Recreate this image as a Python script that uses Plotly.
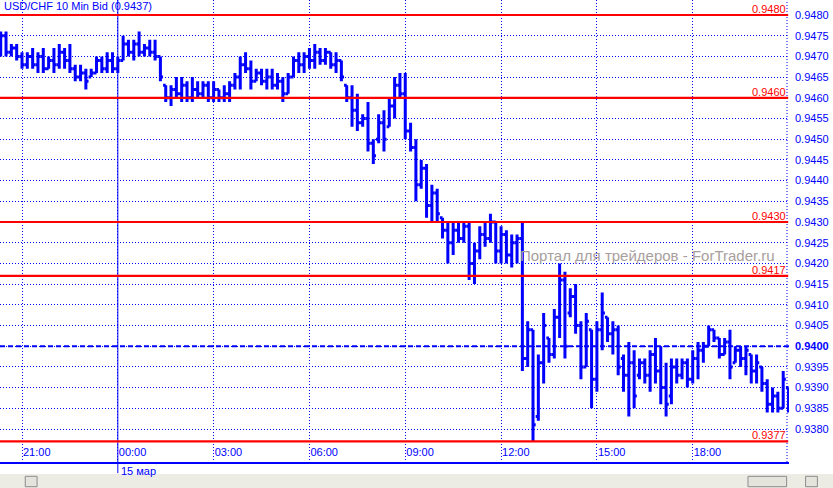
import pandas as pd
import plotly.graph_objects as go

# ---- data (10-minute bars, USD/CHF bid) ----
times = pd.date_range("2012-03-14 20:20", periods=149, freq="10min")

open_ = [0.9471,0.9475,0.9471,0.9472,0.9470,0.9468,0.9470,0.9468,0.9470,0.9467,
         0.9469,0.9468,0.9471,0.9469,0.9467,0.9465,0.9466,0.9465,0.9466,0.9469,
         0.9467,0.9469,0.9467,0.9469,0.9473,0.9471,0.9473,0.9471,0.9472,0.9471,
         0.9470,0.9463,0.9460,0.9462,0.9461,0.9463,0.9460,0.9462,0.9461,0.9463,
         0.9460,0.9462,0.9460,0.9461,0.9463,0.9465,0.9468,0.9467,0.9464,0.9466,
         0.9464,0.9465,0.9463,0.9464,0.9461,0.9465,0.9469,0.9468,0.9470,0.9469,
         0.9471,0.9469,0.9471,0.9468,0.9469,0.9463,0.9460,0.9457,0.9454,0.9455,
         0.9449,0.9450,0.9454,0.9453,0.9458,0.9463,0.9461,0.9452,0.9448,0.9439,
         0.9443,0.9434,0.9437,0.9431,0.9428,0.9425,0.9428,0.9426,0.9429,0.9420,
         0.9423,0.9427,0.9426,0.9430,0.9423,0.9427,0.9422,0.9425,0.9426,0.9397,
         0.9404,0.9383,0.9396,0.9402,0.9398,0.9407,0.9416,0.9408,0.9412,0.9405,
         0.9395,0.9404,0.9392,0.9404,0.9407,0.9403,0.9404,0.9397,0.9393,0.9396,
         0.9393,0.9396,0.9393,0.9398,0.9394,0.9390,0.9388,0.9395,0.9393,0.9396,
         0.9392,0.9397,0.9399,0.9400,0.9404,0.9402,0.9398,0.9401,0.9396,0.9399,
         0.9397,0.9398,0.9394,0.9395,0.9391,0.9386,0.9388,0.9385,0.9390]

high = [0.9476,0.9476,0.9473,0.9473,0.9471,0.9471,0.9472,0.9471,0.9472,0.9470,
        0.9472,0.9473,0.9472,0.9473,0.9468,0.9468,0.9467,0.9467,0.9470,0.9470,
        0.9471,0.9471,0.9470,0.9475,0.9474,0.9474,0.9476,0.9473,0.9474,0.9474,
        0.9470,0.9463,0.9463,0.9465,0.9465,0.9464,0.9465,0.9464,0.9464,0.9464,
        0.9464,0.9462,0.9463,0.9464,0.9466,0.9470,0.9471,0.9469,0.9467,0.9467,
        0.9467,0.9467,0.9466,0.9465,0.9466,0.9470,0.9471,0.9471,0.9472,0.9473,
        0.9472,0.9472,0.9471,0.9471,0.9469,0.9463,0.9463,0.9461,0.9456,0.9459,
        0.9450,0.9456,0.9457,0.9460,0.9465,0.9466,0.9466,0.9454,0.9450,0.9445,
        0.9444,0.9439,0.9438,0.9431,0.9430,0.9430,0.9430,0.9430,0.9430,0.9425,
        0.9429,0.9430,0.9432,0.9430,0.9429,0.9428,0.9427,0.9427,0.9430,0.9406,
        0.9404,0.9398,0.9408,0.9402,0.9409,0.9420,0.9418,0.9414,0.9415,0.9406,
        0.9408,0.9404,0.9406,0.9413,0.9407,0.9406,0.9405,0.9398,0.9401,0.9399,
        0.9397,0.9397,0.9399,0.9402,0.9400,0.9396,0.9397,0.9397,0.9397,0.9397,
        0.9399,0.9401,0.9401,0.9405,0.9404,0.9402,0.9402,0.9404,0.9400,0.9400,
        0.9400,0.9398,0.9398,0.9395,0.9392,0.9390,0.9389,0.9394,0.9390]

low = [0.9470,0.9470,0.9470,0.9469,0.9467,0.9467,0.9467,0.9466,0.9466,0.9467,
       0.9466,0.9467,0.9467,0.9466,0.9464,0.9464,0.9462,0.9465,0.9466,0.9466,
       0.9466,0.9466,0.9466,0.9469,0.9470,0.9469,0.9470,0.9470,0.9470,0.9469,
       0.9464,0.9459,0.9458,0.9460,0.9459,0.9459,0.9459,0.9460,0.9460,0.9459,
       0.9459,0.9459,0.9459,0.9459,0.9462,0.9462,0.9466,0.9462,0.9464,0.9463,
       0.9462,0.9462,0.9462,0.9459,0.9461,0.9465,0.9466,0.9466,0.9467,0.9467,
       0.9468,0.9468,0.9467,0.9466,0.9464,0.9459,0.9453,0.9452,0.9453,0.9447,
       0.9444,0.9449,0.9447,0.9453,0.9455,0.9460,0.9450,0.9447,0.9435,0.9438,
       0.9431,0.9430,0.9430,0.9426,0.9420,0.9422,0.9425,0.9425,0.9416,0.9415,
       0.9421,0.9424,0.9425,0.9420,0.9420,0.9420,0.9419,0.9420,0.9394,0.9395,
       0.9377,0.9382,0.9391,0.9396,0.9397,0.9402,0.9397,0.9407,0.9403,0.9392,
       0.9395,0.9385,0.9389,0.9399,0.9401,0.9398,0.9393,0.9389,0.9383,0.9385,
       0.9392,0.9391,0.9389,0.9391,0.9386,0.9383,0.9386,0.9391,0.9392,0.9390,
       0.9391,0.9392,0.9396,0.9400,0.9401,0.9397,0.9398,0.9392,0.9396,0.9395,
       0.9393,0.9391,0.9391,0.9389,0.9384,0.9384,0.9384,0.9385,0.9384]

close = [0.9475,0.9471,0.9472,0.9470,0.9468,0.9470,0.9468,0.9470,0.9467,0.9469,
         0.9468,0.9471,0.9469,0.9467,0.9465,0.9466,0.9464,0.9466,0.9469,0.9467,
         0.9469,0.9467,0.9469,0.9473,0.9471,0.9473,0.9471,0.9472,0.9471,0.9470,
         0.9465,0.9460,0.9462,0.9461,0.9463,0.9460,0.9462,0.9461,0.9463,0.9460,
         0.9462,0.9460,0.9461,0.9463,0.9465,0.9468,0.9467,0.9464,0.9466,0.9464,
         0.9465,0.9463,0.9464,0.9461,0.9465,0.9469,0.9468,0.9470,0.9469,0.9471,
         0.9469,0.9471,0.9468,0.9469,0.9465,0.9460,0.9457,0.9454,0.9455,0.9449,
         0.9446,0.9454,0.9450,0.9458,0.9463,0.9461,0.9452,0.9448,0.9439,0.9443,
         0.9434,0.9437,0.9432,0.9428,0.9425,0.9428,0.9426,0.9429,0.9420,0.9423,
         0.9427,0.9426,0.9430,0.9423,0.9427,0.9422,0.9425,0.9426,0.9397,0.9404,
         0.9381,0.9396,0.9405,0.9398,0.9407,0.9416,0.9400,0.9412,0.9405,0.9395,
         0.9406,0.9392,0.9404,0.9408,0.9403,0.9404,0.9395,0.9393,0.9396,0.9388,
         0.9396,0.9393,0.9398,0.9394,0.9390,0.9386,0.9395,0.9393,0.9396,0.9392,
         0.9397,0.9399,0.9400,0.9404,0.9402,0.9398,0.9401,0.9395,0.9399,0.9397,
         0.9399,0.9394,0.9396,0.9391,0.9386,0.9388,0.9385,0.9392,0.9387]

level_values = [0.9480, 0.9460, 0.9430, 0.9417, 0.9377]
level_labels = ["0.9480", "0.9460", "0.9430", "0.9417", "0.9377"]
pivot_value = 0.9400

ytick_vals = [0.9380, 0.9385, 0.9390, 0.9395, 0.9400, 0.9405, 0.9410, 0.9415,
              0.9420, 0.9425, 0.9430, 0.9435, 0.9440, 0.9445, 0.9450, 0.9455,
              0.9460, 0.9465, 0.9470, 0.9475, 0.9480]
ytick_text = ["0.9380", "0.9385", "0.9390", "0.9395", "<b>0.9400</b>", "0.9405",
              "0.9410", "0.9415", "0.9420", "0.9425", "0.9430", "0.9435", "0.9440",
              "0.9445", "0.9450", "0.9455", "0.9460", "0.9465", "0.9470", "0.9475",
              "0.9480"]
xtick_vals = ["2012-03-14 21:00", "2012-03-15 00:00", "2012-03-15 03:00",
              "2012-03-15 06:00", "2012-03-15 09:00", "2012-03-15 12:00",
              "2012-03-15 15:00", "2012-03-15 18:00"]
xtick_text = ["21:00", "00:00", "03:00", "06:00", "09:00", "12:00", "15:00", "18:00"]
day_marker = "2012-03-15 00:00"
day_label = "15 мар"
title_text = "USD/CHF 10 Min Bid (0.9437)"
watermark = "Портал для трейдеров - ForTrader.ru"

BLUE = "#0000FF"
RED = "#FF0000"
FONT = "Liberation Sans"

fig = go.Figure(go.Ohlc(
    x=times, open=open_, high=high, low=low, close=close,
    increasing=dict(line=dict(color=BLUE, width=3)),
    decreasing=dict(line=dict(color=BLUE, width=3)),
    tickwidth=0.5, hoverinfo="skip",
))

shapes = []
# dotted right border of the price pane
shapes.append(dict(type="line", xref="paper", yref="paper", x0=0.9975, x1=0.9975,
                   y0=0, y1=1, line=dict(color=BLUE, width=1, dash="1px,2px")))
# day separator
shapes.append(dict(type="line", xref="x", yref="paper", x0=day_marker, x1=day_marker,
                   y0=-0.024, y1=1, line=dict(color=BLUE, width=1)))
# pivot dashed line
shapes.append(dict(type="line", xref="paper", yref="y", x0=0, x1=1,
                   y0=pivot_value, y1=pivot_value,
                   line=dict(color=BLUE, width=2, dash="5px,3px")))
for v in level_values:
    shapes.append(dict(type="line", xref="paper", yref="y", x0=0, x1=0.999,
                       y0=v, y1=v, line=dict(color=RED, width=2.2)))
# bottom grey status/scroll strip
shapes.append(dict(type="rect", xref="paper", yref="paper", x0=0, x1=1.06,
                   y0=-0.0565, y1=-0.026, fillcolor="#ECEBE4", line=dict(width=0),
                   layer="below"))
shapes.append(dict(type="rect", xref="paper", yref="paper", x0=0.948, x1=0.997,
                   y0=-0.0535, y1=-0.031, fillcolor="#E4E3DC",
                   line=dict(color="#8C8C8C", width=1)))
shapes.append(dict(type="rect", xref="paper", yref="paper", x0=1.021, x1=1.036,
                   y0=-0.0535, y1=-0.031, fillcolor="#E4E3DC",
                   line=dict(color="#8C8C8C", width=1)))
shapes.append(dict(type="rect", xref="paper", yref="paper", x0=0.032, x1=0.047,
                   y0=-0.0535, y1=-0.031, fillcolor="#E4E3DC",
                   line=dict(color="#8C8C8C", width=1)))

annotations = []
for v, t in zip(level_values, level_labels):
    annotations.append(dict(xref="paper", yref="y", x=0.999, y=v, text=t,
                            showarrow=False, xanchor="right", yanchor="bottom",
                            yshift=-2, font=dict(family=FONT, size=11, color=RED)))
annotations.append(dict(xref="paper", yref="paper", x=0.003, y=1, text=title_text,
                        showarrow=False, xanchor="left", yanchor="top", yshift=2,
                        font=dict(family=FONT, size=11, color=BLUE)))
annotations.append(dict(xref="x", yref="paper", x=day_marker, y=-0.003, text=day_label,
                        showarrow=False, xanchor="left", yanchor="top", xshift=1,
                        font=dict(family=FONT, size=11, color=BLUE)))
annotations.append(dict(xref="paper", yref="paper", x=0.657, y=0.447, text=watermark,
                        showarrow=False, xanchor="left", yanchor="middle",
                        font=dict(family=FONT, size=15, color="#A89E9E")))

fig.update_layout(
    width=833, height=488,
    margin=dict(l=0, r=44, t=0, b=26, pad=0),
    paper_bgcolor="white", plot_bgcolor="white",
    showlegend=False,
    shapes=shapes, annotations=annotations,
    xaxis=dict(
        range=["2012-03-14 20:18:40", "2012-03-15 21:00:54"],
        rangeslider=dict(visible=False),
        tickvals=xtick_vals, ticktext=xtick_text,
        ticklabelposition="inside right", ticks="",
        tickfont=dict(family=FONT, size=11, color=BLUE),
        showgrid=True, gridcolor=BLUE, gridwidth=1, griddash="1px,2px",
        showline=True, linecolor=BLUE, linewidth=2, zeroline=False,
    ),
    yaxis=dict(
        side="right", range=[0.937203, 0.948362],
        tickvals=ytick_vals, ticktext=ytick_text, ticks="",
        ticklabelstandoff=5,
        tickfont=dict(family=FONT, size=11, color=BLUE),
        showgrid=True, gridcolor=BLUE, gridwidth=1, griddash="1px,2px",
        showline=False, zeroline=False,
    ),
)

fig.write_html(
    "out.html",
    config={"displayModeBar": False},
    post_script="document.body.style.margin='0';document.body.style.overflow='hidden';",
)
